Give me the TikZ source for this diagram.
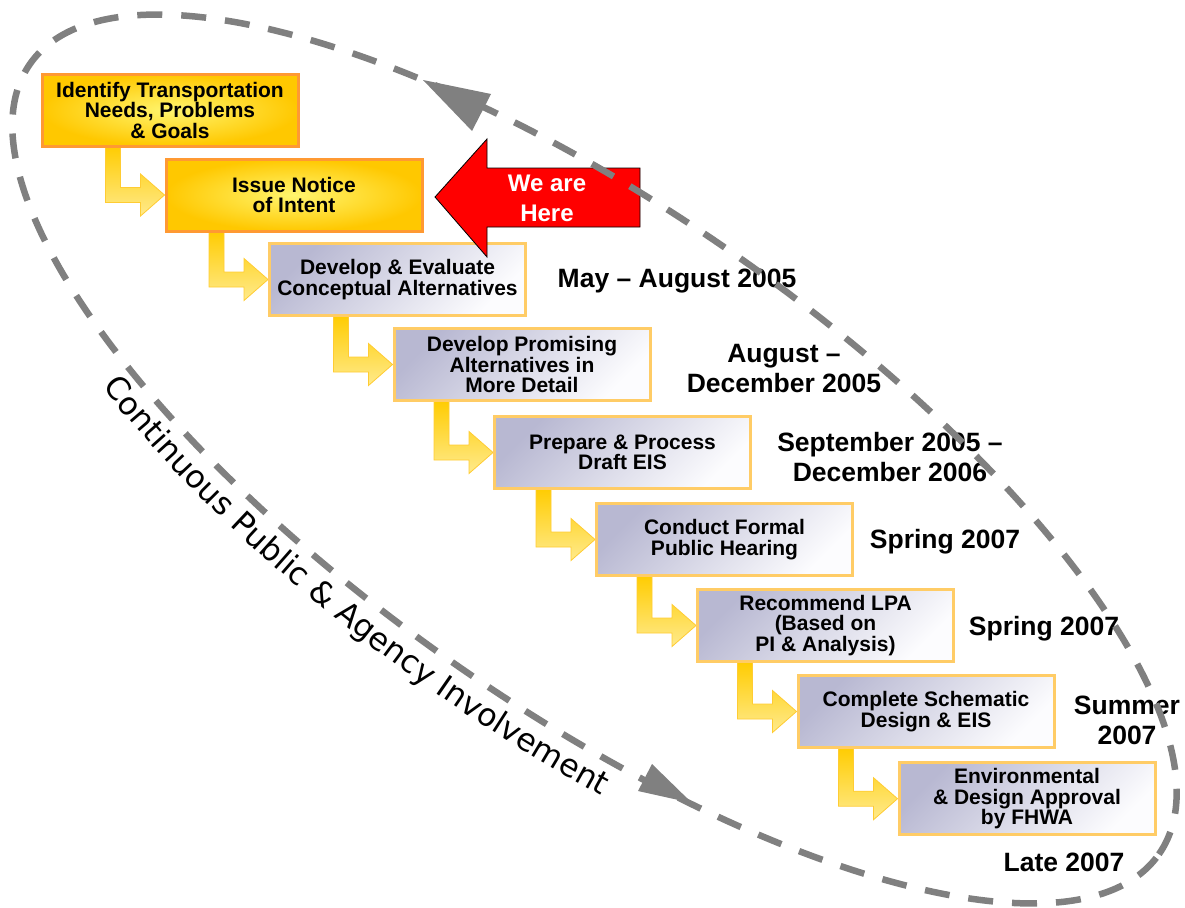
\documentclass[tikz,border=0pt]{standalone}
\usepackage{fontspec}
\setmainfont{Liberation Sans}
\newfontfamily\involvefont{DejaVu Sans}
\usetikzlibrary{calc,backgrounds,decorations.text}
\definecolor{boxorange}{RGB}{255,153,51}
\definecolor{yelin}{RGB}{255,245,110}
\definecolor{yelout}{RGB}{255,200,0}
\definecolor{lav}{RGB}{184,184,210}
\definecolor{lavlight}{RGB}{252,252,254}
\definecolor{goldborder}{RGB}{255,204,102}
\definecolor{conntop}{RGB}{255,204,0}
\definecolor{connbot}{RGB}{255,234,140}
\definecolor{connline}{RGB}{255,204,51}
\definecolor{ellgray}{RGB}{128,128,128}
\tikzset{
  stepbox/.style={rectangle, line width=3pt, minimum width=256pt, minimum height=72pt,
    align=center, font=\fontsize{21}{20.5}\selectfont\bfseries, inner sep=0pt},
  hotbox/.style={stepbox, draw=boxorange, inner color=yelin, outer color=yelout},
  coolbox/.style={stepbox, draw=goldborder, top color=lav, bottom color=lavlight, shading angle=45},
  datelabel/.style={align=center, font=\fontsize{26.5}{30}\selectfont\bfseries, inner sep=0pt},
  connshape/.style={draw=connline, line width=0.8pt, top color=conntop, bottom color=connbot},
  loopline/.style={draw=ellgray, line width=6.5pt, dash pattern=on 25pt off 19pt},
  loophead/.style={fill=ellgray},
  herearrow/.style={draw=black, line width=0.8pt, fill=red},
  herelabel/.style={font=\fontsize{24}{30}\selectfont\bfseries, text=white, align=center, inner sep=0pt},
}
\newcommand{\stepconn}[2]{%
  \path[connshape] let \p1=(#1.south), \p2=(#2.west) in
    (\x2-59pt,\y1+2pt) -- (\x2-59pt,\y2-7.5pt) -- (\x2-24pt,\y2-7.5pt) -- (\x2-24pt,\y2-21pt)
    -- (\p2) -- (\x2-24pt,\y2+21pt) -- (\x2-24pt,\y2+7.5pt) -- (\x2-44pt,\y2+7.5pt)
    -- (\x2-44pt,\y1+2pt) -- cycle;}
\begin{document}
\begin{tikzpicture}[x=1pt,y=-1pt]
\useasboundingbox (0,0) rectangle (1185,907);

% boxes
\node[hotbox] (b1) at (170,110) {Identify Transportation\\Needs, Problems\\\& Goals};
\node[hotbox] (b2) at (294,195) {Issue Notice\\of Intent};
\node[coolbox] (b3) at (397.5,279.5) {Develop \& Evaluate\\Conceptual Alternatives};
\node[coolbox] (b4) at (522,364.5) {Develop Promising\\Alternatives in\\More Detail};
\node[coolbox] (b5) at (622.5,452.5) {Prepare \& Process\\Draft EIS};
\node[coolbox] (b6) at (724.5,539.5) {Conduct Formal\\Public Hearing};
\node[coolbox] (b7) at (825.5,625.5) {Recommend LPA\\(Based on\\PI \& Analysis)};
\node[coolbox] (b8) at (926,711.5) {Complete Schematic\\Design \& EIS};
\node[coolbox] (b9) at (1027,798.7) {Environmental\\\& Design Approval\\by FHWA};

% background and connectors
\begin{scope}[on background layer]
\fill[white] (0,0) rectangle (1185,907);
\stepconn{b1}{b2}
\stepconn{b2}{b3}
\stepconn{b3}{b4}
\stepconn{b4}{b5}
\stepconn{b5}{b6}
\stepconn{b6}{b7}
\stepconn{b7}{b8}
\stepconn{b8}{b9}
\end{scope}

% dates
\node[datelabel] (d1) at (677,281) {May -- August 2005};
\node[datelabel] (d2) at (784,369) {August --\\December 2005};
\node[datelabel] (d3) at (890,457) {September 2005 --\\December 2006};
\node[datelabel] (d4) at (945,542) {Spring 2007};
\node[datelabel] (d5) at (1044,629) {Spring 2007};
\node[datelabel] (d6) at (1127,720) {Summer\\2007};
\node[datelabel] (d7) at (1064,862) {Late 2007};

% we are here arrow
\path[herearrow] (435,197) -- (487,139) -- (487,168) -- (640,168) -- (640,227)
  -- (487,227) -- (487,257) -- cycle;
\node[herelabel] (here) at (547,198) {We are\\Here};

% loop with its curved label
\begin{scope}[shift={(594.5,459)}, rotate=-35]
  \path[decorate, decoration={text along path, text align=center,
      text={|\involvefont\fontsize{31.5}{38}\selectfont|Continuous Public {\&} Agency Involvement}}]
    (209.5:724pt and 283pt) arc[start angle=209.5, end angle=303.5, x radius=724pt, y radius=283pt];
  \draw[loopline] (0pt,0pt) ellipse [x radius=689pt, y radius=248pt];
\end{scope}
\fill[loophead] (423,80) -- (491,94) -- (472,131) -- cycle;
\fill[loophead] (692,803) -- (652,764) -- (638,791) -- cycle;
\end{tikzpicture}
\end{document}
